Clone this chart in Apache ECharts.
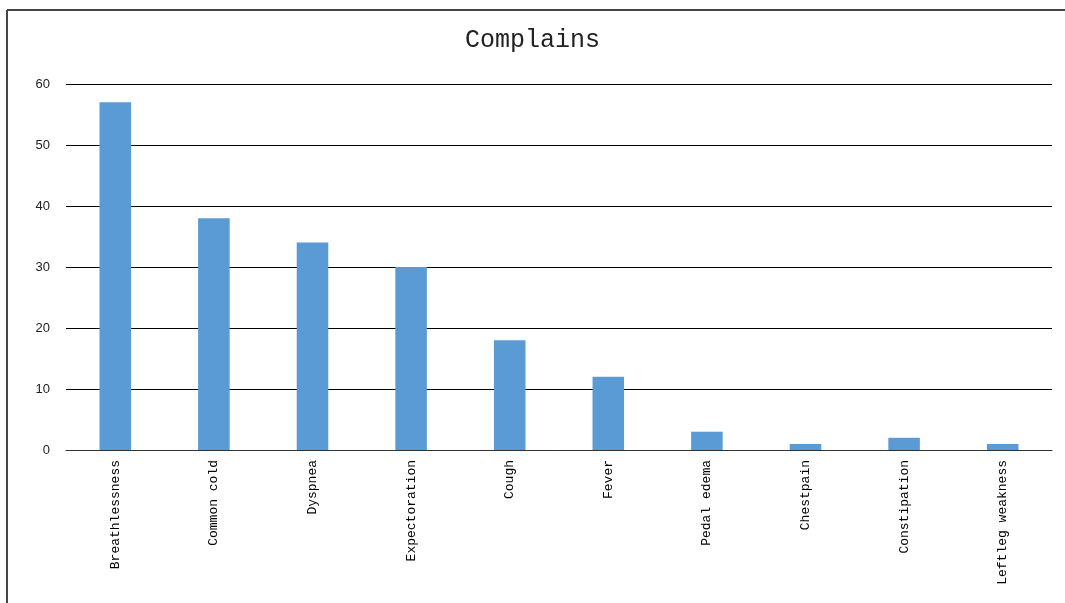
<!DOCTYPE html>
<html><head><meta charset="utf-8">
<script src="https://cdn.jsdelivr.net/npm/echarts@6/dist/echarts.min.js"></script>
<style>html,body{margin:0;padding:0;background:#fff}#c{width:1065px;height:603px}</style>
</head><body><div id="c"></div>
<script>
const categories = ['Breathlessness','Common cold','Dyspnea','Expectoration','Cough','Fever','Pedal edema','Chestpain','Constipation','Leftleg weakness'];
const values = [57, 38, 34, 30, 18, 12, 3, 1, 2, 1];
const yTicks = [0, 10, 20, 30, 40, 50, 60];

const chart = echarts.init(document.getElementById('c'), null, {renderer: 'canvas'});
chart.setOption({
  animation: false,
  backgroundColor: '#fff',
  title: {
    text: 'Complains', left: 'center', top: 28, padding: 0,
    textStyle: {fontFamily: 'Liberation Mono', fontWeight: 'normal', fontSize: 25, color: '#222'}
  },
  graphic: [
    {type: 'line', shape: {x1: 7, y1: 10, x2: 1065, y2: 10}, style: {stroke: '#444', lineWidth: 2}},
    {type: 'line', shape: {x1: 7, y1: 10, x2: 7, y2: 603}, style: {stroke: '#444', lineWidth: 2}}
  ],
  grid: {left: 66, right: 13, top: 84, bottom: 153, containLabel: false},
  xAxis: {
    type: 'category', data: categories,
    axisLine: {lineStyle: {color: '#333', width: 1}},
    axisTick: {show: false},
    axisLabel: {rotate: 90, interval: 0, margin: 10, fontFamily: 'Liberation Mono', fontSize: 13, color: '#000', align: 'right', verticalAlign: 'middle'}
  },
  yAxis: {
    type: 'value', min: yTicks[0], max: yTicks[yTicks.length - 1], interval: 10,
    axisLine: {show: false}, axisTick: {show: false},
    splitLine: {lineStyle: {color: '#000', width: 1}},
    axisLabel: {margin: 16, fontFamily: 'Liberation Sans', fontSize: 13, color: '#222'}
  },
  series: [{
    type: 'bar', data: values, barWidth: '32%',
    itemStyle: {color: '#5b9bd5'}
  }]
});
</script></body></html>
